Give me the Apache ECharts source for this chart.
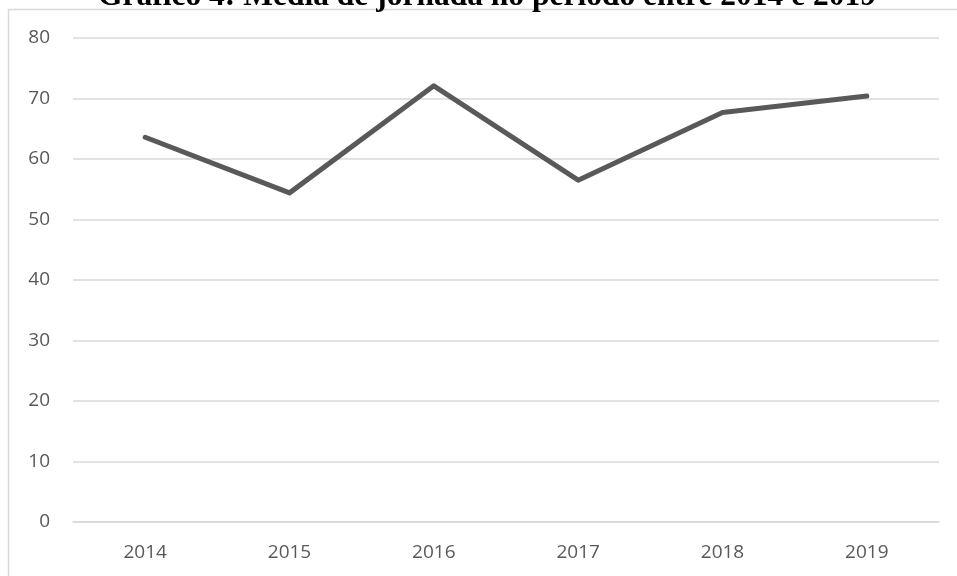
<!DOCTYPE html>
<html><head><meta charset="utf-8">
<script src="https://cdn.jsdelivr.net/npm/echarts@6/dist/echarts.min.js"></script>
<style>html,body{margin:0;padding:0;background:#fff}#c{width:957px;height:576px}</style>
</head><body><div id="c"></div>
<script>
const titleText = 'Gráfico 4: Média de jornada no período entre 2014 e 2019';
const categories = ['2014', '2015', '2016', '2017', '2018', '2019'];
const values = [63.6, 54.4, 72.1, 56.5, 67.7, 70.4];
const yTicks = [0, 10, 20, 30, 40, 50, 60, 70, 80];

const chart = echarts.init(document.getElementById('c'), null, {renderer: 'canvas'});
chart.setOption({
  animation: false,
  backgroundColor: '#fff',
  graphic: [
    {type: 'rect', shape: {x: 8.5, y: 9.5, width: 960, height: 600}, style: {fill: 'none', stroke: '#d9d9d9', lineWidth: 1.5}, z: 0},
    {type: 'text', left: 98, top: -19, style: {text: titleText, font: 'bold 31.5px "Liberation Serif", "Times New Roman", serif', fill: '#000'}, z: 10}
  ],
  grid: {left: 73, right: 18, top: 38, bottom: 54, containLabel: false},
  xAxis: {
    type: 'category', data: categories, boundaryGap: true,
    axisLine: {show: true, lineStyle: {color: '#d9d9d9', width: 1.5}},
    axisTick: {show: false},
    axisLabel: {color: '#595959', fontSize: 19, fontFamily: '"Open Sans", sans-serif', margin: 21}
  },
  yAxis: {
    type: 'value', min: yTicks[0], max: yTicks[yTicks.length - 1], interval: 10,
    axisLine: {show: false}, axisTick: {show: false},
    splitLine: {lineStyle: {color: '#d9d9d9', width: 1.5}},
    axisLabel: {color: '#595959', fontSize: 19, fontFamily: '"Open Sans", sans-serif', margin: 23}
  },
  series: [{
    type: 'line', data: values, symbol: 'none',
    lineStyle: {color: '#595959', width: 5, cap: 'round', join: 'round'}
  }]
});
</script></body></html>
